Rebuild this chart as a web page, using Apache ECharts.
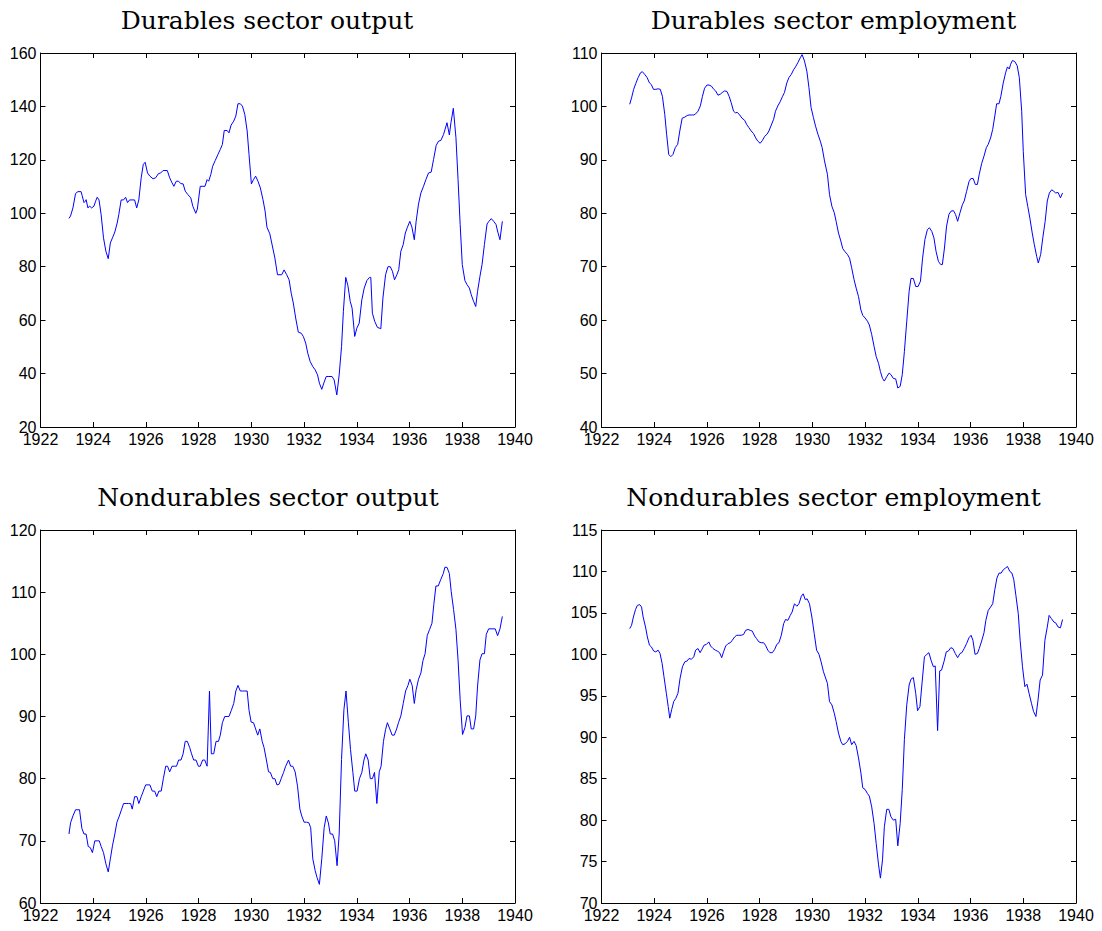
<!DOCTYPE html>
<html>
<head>
<meta charset="utf-8">
<script src="https://cdn.jsdelivr.net/npm/echarts@6/dist/echarts.min.js"></script>
<style>
html,body{margin:0;padding:0;background:#fff;}
#chart{width:1102px;height:931px;}
</style>
</head>
<body>
<div id="chart"></div>
<script>
// ---- Data: [year, index value] ----
const titles = ['Durables sector output', 'Durables sector employment', 'Nondurables sector output', 'Nondurables sector employment'];

const durOutput = [[1923.08,98.1],[1923.14,99],[1923.23,102],[1923.33,107.4],[1923.42,108.1],[1923.54,108.1],[1923.58,106.6],[1923.65,104],[1923.70,104.5],[1923.73,105.1],[1923.80,102],[1923.86,102.7],[1923.94,102],[1924.03,102.7],[1924.09,104.5],[1924.15,106],[1924.22,105],[1924.30,99.5],[1924.39,90.8],[1924.48,85.8],[1924.57,83],[1924.65,88.9],[1924.73,90.8],[1924.82,93],[1924.91,96.4],[1924.97,99.5],[1925.06,105],[1925.15,105],[1925.23,106],[1925.30,104],[1925.38,105],[1925.47,105],[1925.57,105],[1925.65,102],[1925.73,105],[1925.82,113.3],[1925.90,118.3],[1925.97,119.1],[1926.06,115.1],[1926.15,113.9],[1926.27,112.9],[1926.37,113.3],[1926.47,114.8],[1926.56,115.1],[1926.65,116],[1926.81,116],[1926.90,113.3],[1926.99,111.4],[1927.06,110.1],[1927.15,112],[1927.24,112],[1927.32,111.1],[1927.41,111],[1927.49,108.3],[1927.59,107],[1927.70,105.8],[1927.78,102.6],[1927.89,100],[1927.95,101.6],[1928.06,110.1],[1928.16,110.1],[1928.24,110.1],[1928.32,112.6],[1928.38,112],[1928.46,114.5],[1928.53,117.6],[1928.63,119.8],[1928.73,122],[1928.82,123.9],[1928.90,125.8],[1928.97,131],[1929.08,131],[1929.15,130.1],[1929.23,133],[1929.33,134.5],[1929.41,136.4],[1929.49,141],[1929.58,141],[1929.66,140.1],[1929.75,137],[1929.84,130.8],[1929.91,122],[1930.00,111],[1930.08,112.6],[1930.16,113.9],[1930.25,112],[1930.34,109.5],[1930.44,105.1],[1930.52,100.8],[1930.59,94.8],[1930.70,92.3],[1930.78,88.5],[1930.89,83.3],[1930.99,77],[1931.15,77],[1931.24,78.8],[1931.34,77],[1931.43,75.1],[1931.51,70.1],[1931.59,66.4],[1931.68,60.8],[1931.78,55.5],[1931.89,55.1],[1931.97,53.9],[1932.06,51.4],[1932.14,47.6],[1932.23,44.5],[1932.33,42.6],[1932.42,41.4],[1932.51,39.5],[1932.58,36.4],[1932.67,34.1],[1932.76,36.8],[1932.84,38.9],[1932.94,38.9],[1933.06,38.9],[1933.14,37.6],[1933.24,32],[1933.33,39.5],[1933.42,50.1],[1933.49,63.3],[1933.58,76],[1933.66,73],[1933.75,67],[1933.82,64.5],[1933.92,53.9],[1934.00,57],[1934.09,58.9],[1934.19,67.6],[1934.28,72],[1934.38,74.8],[1934.48,76],[1934.53,76],[1934.59,62.6],[1934.68,59.5],[1934.78,57.3],[1934.91,56.8],[1934.99,68.3],[1935.09,77],[1935.18,80],[1935.27,80],[1935.35,78.3],[1935.43,75.1],[1935.52,77],[1935.59,78.9],[1935.67,85.8],[1935.76,88.3],[1935.84,92.6],[1935.92,94.8],[1936.01,97],[1936.09,94.8],[1936.18,90.1],[1936.25,97],[1936.34,103.5],[1936.43,107.6],[1936.53,110.1],[1936.62,112.6],[1936.72,115.1],[1936.82,115.4],[1936.91,120.1],[1937.01,125.4],[1937.10,127],[1937.19,127.3],[1937.29,129.5],[1937.42,133.9],[1937.51,129.3],[1937.57,133.9],[1937.66,139.3],[1937.76,128.3],[1937.84,112.6],[1937.92,95.8],[1938.00,80.8],[1938.10,74.8],[1938.18,73.3],[1938.27,72],[1938.34,69.5],[1938.43,67],[1938.51,65.1],[1938.58,70.8],[1938.67,76.4],[1938.75,80.8],[1938.84,88.3],[1938.94,96],[1939.01,97],[1939.10,98],[1939.19,97],[1939.28,95.8],[1939.35,92.9],[1939.43,90.1],[1939.52,97]];

const durEmployment = [[1923.07,100.4],[1923.14,101.6],[1923.22,103.2],[1923.30,104.3],[1923.39,105.4],[1923.48,106.3],[1923.55,106.5],[1923.64,106],[1923.73,105.4],[1923.82,104.4],[1923.89,104.1],[1923.97,103.2],[1924.06,103.2],[1924.15,103.3],[1924.23,103.2],[1924.31,101.9],[1924.40,98.5],[1924.47,94.8],[1924.55,91],[1924.63,90.6],[1924.71,91],[1924.80,92.3],[1924.89,92.9],[1924.97,95.4],[1925.06,97.8],[1925.16,98],[1925.25,98.3],[1925.32,98.4],[1925.41,98.4],[1925.50,98.4],[1925.57,98.6],[1925.66,99.1],[1925.75,100.1],[1925.83,101.9],[1925.91,103.4],[1926.00,104],[1926.08,104],[1926.17,103.8],[1926.26,103.2],[1926.33,102.9],[1926.42,102.1],[1926.51,102.3],[1926.58,102.6],[1926.67,102.9],[1926.76,102.8],[1926.84,101.9],[1926.92,100.7],[1927.01,99.1],[1927.08,98.8],[1927.15,98.9],[1927.24,98.4],[1927.33,97.8],[1927.43,97.4],[1927.51,96.6],[1927.58,96.1],[1927.68,95.4],[1927.77,94.9],[1927.85,94.1],[1927.93,93.5],[1928.02,93.1],[1928.10,93.6],[1928.19,94.4],[1928.28,94.8],[1928.35,95.4],[1928.44,96.5],[1928.53,97.6],[1928.60,99.1],[1928.69,100.1],[1928.78,100.9],[1928.86,101.8],[1928.94,102.6],[1929.03,104.4],[1929.11,105.4],[1929.20,106],[1929.29,106.9],[1929.36,107.4],[1929.45,108.2],[1929.54,109.1],[1929.61,109.7],[1929.70,108.5],[1929.79,106.6],[1929.87,103.5],[1929.95,99.8],[1930.04,97.9],[1930.12,96.3],[1930.21,94.8],[1930.30,93.5],[1930.37,92.3],[1930.46,89.8],[1930.57,87.3],[1930.65,83.5],[1930.74,81.3],[1930.83,80.1],[1930.90,78.5],[1930.99,76.3],[1931.08,74.8],[1931.15,73.4],[1931.24,72.8],[1931.33,72.3],[1931.41,71.6],[1931.49,69.8],[1931.58,67.6],[1931.66,66],[1931.75,64.4],[1931.84,61.9],[1931.91,60.9],[1932.00,60.4],[1932.09,59.8],[1932.16,59.1],[1932.25,57.3],[1932.34,55.1],[1932.42,53.2],[1932.51,51.9],[1932.58,50.4],[1932.66,49.1],[1932.73,48.6],[1932.82,49.4],[1932.91,50.1],[1932.98,49.8],[1933.07,49.1],[1933.16,49],[1933.24,47.3],[1933.33,47.6],[1933.41,49.8],[1933.49,54.1],[1933.58,59.8],[1933.67,65.4],[1933.74,67.8],[1933.83,67.8],[1933.92,66.3],[1934.01,66.3],[1934.10,67.3],[1934.18,71.6],[1934.27,75.1],[1934.36,76.9],[1934.44,77.3],[1934.53,76.6],[1934.61,75.4],[1934.69,72.9],[1934.78,71],[1934.87,70.4],[1934.93,70.4],[1935.01,73.5],[1935.09,77.6],[1935.18,79.8],[1935.26,80.4],[1935.35,80.5],[1935.43,79.8],[1935.51,78.5],[1935.60,80.1],[1935.69,81.6],[1935.76,82.3],[1935.85,84.1],[1935.94,85.9],[1936.01,86.5],[1936.10,86.5],[1936.18,85.4],[1936.26,85.4],[1936.33,87.3],[1936.42,89.3],[1936.51,90.7],[1936.60,92.3],[1936.67,92.9],[1936.76,94.1],[1936.84,95.7],[1936.92,98.2],[1936.99,100.5],[1937.08,100.5],[1937.15,101.9],[1937.24,104.4],[1937.33,106.3],[1937.40,107.4],[1937.47,107],[1937.52,107.9],[1937.59,108.6],[1937.68,108.4],[1937.77,107.6],[1937.85,105.4],[1937.94,99.1],[1938.00,91.6],[1938.09,83.5],[1938.17,81.3],[1938.25,79.1],[1938.34,76.3],[1938.42,74.1],[1938.51,71.9],[1938.57,70.7],[1938.66,72.3],[1938.74,75.4],[1938.83,78.5],[1938.91,82.3],[1938.99,83.8],[1939.08,84.4],[1939.16,84.1],[1939.23,83.8],[1939.32,83.9],[1939.41,82.9],[1939.49,83.8]];

const nondurOutput = [[1923.08,71.1],[1923.14,72.9],[1923.23,74],[1923.33,75],[1923.42,75],[1923.48,75],[1923.57,72],[1923.65,71.1],[1923.73,71.1],[1923.81,69.1],[1923.89,68.9],[1923.97,68.1],[1924.06,70],[1924.15,70],[1924.23,70],[1924.30,69.1],[1924.39,68.1],[1924.48,66.3],[1924.57,65],[1924.65,67.1],[1924.73,69.2],[1924.82,71.1],[1924.90,73],[1924.99,74],[1925.08,75.1],[1925.15,76],[1925.25,76],[1925.34,76],[1925.42,76],[1925.48,75.1],[1925.57,77.1],[1925.66,77.1],[1925.73,76],[1925.82,77.1],[1925.90,78],[1925.99,79],[1926.08,79],[1926.15,79],[1926.24,78],[1926.33,78],[1926.41,77.1],[1926.49,78],[1926.58,78],[1926.66,80],[1926.75,82],[1926.82,82],[1926.90,81.1],[1926.99,82],[1927.08,82],[1927.16,82],[1927.24,83],[1927.33,83],[1927.41,84],[1927.49,86],[1927.57,86],[1927.66,85],[1927.73,84],[1927.81,83],[1927.90,83],[1927.99,82],[1928.06,82],[1928.15,83],[1928.23,83],[1928.32,82],[1928.41,94.1],[1928.48,84],[1928.57,84],[1928.66,86],[1928.75,86],[1928.82,87],[1928.90,89],[1928.99,90],[1929.08,90],[1929.15,90],[1929.24,91],[1929.33,92.1],[1929.41,94.1],[1929.49,95],[1929.58,94.1],[1929.66,94.1],[1929.75,94.1],[1929.84,94.1],[1929.91,91],[1929.99,89.1],[1930.08,89],[1930.16,88],[1930.24,87],[1930.32,88],[1930.41,86],[1930.48,85],[1930.57,83],[1930.65,81.1],[1930.72,81],[1930.81,80],[1930.89,80],[1930.97,79],[1931.05,79.1],[1931.13,80],[1931.22,81],[1931.30,82],[1931.41,83],[1931.49,82],[1931.57,82],[1931.66,81.1],[1931.75,78.8],[1931.84,75.1],[1931.91,74],[1932.00,73],[1932.09,73],[1932.18,72.9],[1932.25,72.1],[1932.33,67.1],[1932.42,65.2],[1932.49,64.1],[1932.58,63],[1932.67,67.1],[1932.76,72.1],[1932.84,74],[1932.92,72.9],[1932.99,71.1],[1933.08,71.1],[1933.16,70],[1933.25,66],[1933.33,71.1],[1933.42,83.1],[1933.51,91.1],[1933.59,94.1],[1933.68,89],[1933.76,84.7],[1933.85,81],[1933.92,78],[1934.01,78],[1934.10,80],[1934.19,81],[1934.27,83],[1934.34,84],[1934.43,83],[1934.51,80],[1934.59,80],[1934.67,81],[1934.76,76],[1934.85,81.1],[1934.92,82],[1935.01,86],[1935.09,87.9],[1935.16,89],[1935.25,88],[1935.34,87],[1935.42,87],[1935.51,88],[1935.58,89],[1935.67,90.1],[1935.76,92.1],[1935.85,94.1],[1935.94,95],[1936.01,96],[1936.10,95],[1936.18,92.1],[1936.25,94.3],[1936.34,96],[1936.43,97],[1936.51,99],[1936.59,100.1],[1936.67,103],[1936.76,104],[1936.85,105],[1936.92,108],[1937.00,111],[1937.09,111],[1937.18,112],[1937.28,113],[1937.34,114],[1937.42,114],[1937.51,113],[1937.58,110.1],[1937.67,107.2],[1937.76,104],[1937.84,99.1],[1937.92,92.7],[1938.01,87.1],[1938.10,88.2],[1938.18,90.1],[1938.27,90.1],[1938.34,88],[1938.43,88],[1938.51,90.1],[1938.58,94.9],[1938.67,99.1],[1938.75,100.1],[1938.84,100.1],[1938.91,103.2],[1939.00,104.1],[1939.09,104.1],[1939.16,104.1],[1939.25,104.1],[1939.34,103],[1939.43,104.1],[1939.52,106.1]];

const nondurEmployment = [[1923.07,103.1],[1923.14,103.5],[1923.21,104.5],[1923.29,105.4],[1923.36,105.9],[1923.45,106],[1923.52,105.7],[1923.58,104.5],[1923.67,103.3],[1923.74,102.1],[1923.82,101.1],[1923.89,100.9],[1923.98,100.4],[1924.06,100.3],[1924.15,100.5],[1924.22,100.1],[1924.30,98.9],[1924.37,97.3],[1924.46,95.3],[1924.53,93.7],[1924.59,92.3],[1924.66,93.3],[1924.74,94.3],[1924.82,94.7],[1924.90,95.3],[1924.98,97.1],[1925.07,98.5],[1925.16,99.1],[1925.25,99.2],[1925.32,99.5],[1925.41,99.4],[1925.50,99.7],[1925.57,100.5],[1925.66,100.7],[1925.74,100.2],[1925.81,100.6],[1925.89,101.1],[1925.98,101.2],[1926.07,101.5],[1926.14,101],[1926.23,100.7],[1926.32,100.5],[1926.39,100.4],[1926.48,100.2],[1926.56,99.6],[1926.63,100.3],[1926.71,101],[1926.80,101.3],[1926.89,101.4],[1926.96,101.7],[1927.05,102.1],[1927.13,102.3],[1927.21,102.3],[1927.30,102.3],[1927.39,102.4],[1927.47,102.9],[1927.56,103],[1927.64,102.9],[1927.72,102.8],[1927.81,102.2],[1927.88,101.9],[1927.97,101.5],[1928.06,101.4],[1928.15,101.4],[1928.22,101.1],[1928.31,100.5],[1928.39,100.2],[1928.48,100.2],[1928.57,100.6],[1928.65,101.2],[1928.73,101.4],[1928.82,102.3],[1928.91,103.7],[1928.98,104.2],[1929.07,104.1],[1929.16,104.7],[1929.23,105.1],[1929.32,106.1],[1929.41,105.8],[1929.49,106.1],[1929.58,107],[1929.65,107.3],[1929.73,106.6],[1929.80,106.7],[1929.89,106.1],[1929.98,104.5],[1930.07,102.5],[1930.16,100.5],[1930.25,100],[1930.33,99.1],[1930.42,97.9],[1930.57,96.5],[1930.65,94.3],[1930.74,93.9],[1930.83,92.9],[1930.90,91.9],[1930.99,90.5],[1931.08,89.5],[1931.15,89.1],[1931.24,89.2],[1931.33,89.5],[1931.41,90],[1931.49,89.1],[1931.58,89.5],[1931.66,89],[1931.75,87.5],[1931.84,85.7],[1931.91,83.9],[1932.00,83.7],[1932.09,83.2],[1932.16,82.9],[1932.25,81.6],[1932.34,79.6],[1932.42,77.2],[1932.51,74.6],[1932.58,73],[1932.66,75.2],[1932.73,79.2],[1932.82,81.3],[1932.90,81.3],[1932.98,80.4],[1933.07,80],[1933.16,80.1],[1933.24,76.9],[1933.33,79.6],[1933.41,83.7],[1933.49,89.7],[1933.58,93.9],[1933.67,96.3],[1933.74,97],[1933.83,97.2],[1933.92,95.3],[1933.99,93.2],[1934.08,93.7],[1934.17,96.9],[1934.25,99.7],[1934.34,100],[1934.42,100.2],[1934.50,99.3],[1934.59,98.5],[1934.66,98.6],[1934.75,90.8],[1934.83,98],[1934.90,98.1],[1934.99,99.1],[1935.08,100.3],[1935.16,100.4],[1935.25,100.8],[1935.33,100.7],[1935.42,100.1],[1935.51,99.6],[1935.60,100.1],[1935.67,100.2],[1935.76,100.7],[1935.85,101.3],[1935.94,102],[1936.02,102.3],[1936.09,101.7],[1936.17,100],[1936.26,100.1],[1936.33,100.7],[1936.42,101.6],[1936.51,102.6],[1936.58,104.1],[1936.67,105.3],[1936.76,105.7],[1936.84,106.1],[1936.92,107.8],[1937.00,109.2],[1937.08,109.8],[1937.16,109.8],[1937.24,110.2],[1937.32,110.4],[1937.40,110.6],[1937.49,110],[1937.57,109.8],[1937.64,109],[1937.72,107.1],[1937.81,104.9],[1937.88,101.7],[1937.97,98.5],[1938.06,96.1],[1938.14,96.4],[1938.22,95.3],[1938.31,94.1],[1938.39,93.1],[1938.48,92.5],[1938.56,94.5],[1938.64,96.9],[1938.73,97.5],[1938.82,101.7],[1938.91,103.3],[1938.98,104.7],[1939.07,104.3],[1939.16,103.9],[1939.23,103.8],[1939.32,103.3],[1939.41,103.2],[1939.49,104.2]];

// Axis ranges (ticks): [min, max, interval]
const xRange = [1922, 1940, 2];
const yRanges = [[20, 160, 20], [40, 110, 10], [60, 120, 10], [70, 115, 5]];
const seriesData = [durOutput, durEmployment, nondurOutput, nondurEmployment];

// ---- Layout ----
const grids = [
  {left: 40.5, top: 53, width: 474.5, height: 374},
  {left: 601.5, top: 53, width: 474.5, height: 374},
  {left: 40.5, top: 530, width: 474.5, height: 373},
  {left: 601.5, top: 530, width: 474.5, height: 373}
];
const titlePos = [[267, 20], [833.5, 20], [268, 497], [833.5, 497]];

const AX = '#000';
const labelFont = {color: '#000', fontSize: 16, fontFamily: '"Liberation Sans", Arial, sans-serif'};

const xAxes = [], yAxes = [], series = [];
grids.forEach((g, i) => {
  xAxes.push({
    type: 'value', gridIndex: i, position: 'bottom',
    min: xRange[0], max: xRange[1], interval: xRange[2],
    axisLine: {show: true, onZero: false, lineStyle: {color: AX, width: 1}},
    axisTick: {show: true, inside: true, length: 5, lineStyle: {color: AX}},
    axisLabel: Object.assign({show: true, margin: 4, showMinLabel: true, showMaxLabel: true,
      formatter: v => String(v)}, labelFont),
    splitLine: {show: false}
  });
  xAxes.push({
    type: 'value', gridIndex: i, position: 'top',
    min: xRange[0], max: xRange[1], interval: xRange[2],
    axisLine: {show: true, onZero: false, lineStyle: {color: AX, width: 1}},
    axisTick: {show: true, inside: true, length: 5, lineStyle: {color: AX}},
    axisLabel: {show: false}, splitLine: {show: false}
  });
  const yr = yRanges[i];
  yAxes.push({
    type: 'value', gridIndex: i, position: 'left',
    min: yr[0], max: yr[1], interval: yr[2],
    axisLine: {show: true, onZero: false, lineStyle: {color: AX, width: 1}},
    axisTick: {show: true, inside: true, length: 5, lineStyle: {color: AX}},
    axisLabel: Object.assign({show: true, margin: 4, showMinLabel: true, showMaxLabel: true}, labelFont),
    splitLine: {show: false}
  });
  yAxes.push({
    type: 'value', gridIndex: i, position: 'right',
    min: yr[0], max: yr[1], interval: yr[2],
    axisLine: {show: true, onZero: false, lineStyle: {color: AX, width: 1}},
    axisTick: {show: true, inside: true, length: 5, lineStyle: {color: AX}},
    axisLabel: {show: false}, splitLine: {show: false}
  });
  series.push({
    type: 'line', name: titles[i],
    xAxisIndex: i * 2, yAxisIndex: i * 2,
    data: seriesData[i],
    showSymbol: false, symbol: 'none',
    lineStyle: {color: '#0000ff', width: 1},
    itemStyle: {color: '#0000ff'},
    animation: false, silent: true
  });
});

const graphics = titles.map((t, i) => ({
  type: 'text', x: titlePos[i][0], y: titlePos[i][1], silent: true,
  style: {
    text: t, fill: '#000',
    font: '25px "DejaVu Serif", serif',
    textAlign: 'center', textVerticalAlign: 'middle',
    align: 'center', verticalAlign: 'middle'
  }
}));

const chart = echarts.init(document.getElementById('chart'), null, {renderer: 'svg'});
chart.setOption({
  animation: false,
  backgroundColor: '#fff',
  grid: grids.map(g => Object.assign({containLabel: false}, g)),
  xAxis: xAxes,
  yAxis: yAxes,
  series: series,
  graphic: graphics
});
</script>
</body>
</html>
